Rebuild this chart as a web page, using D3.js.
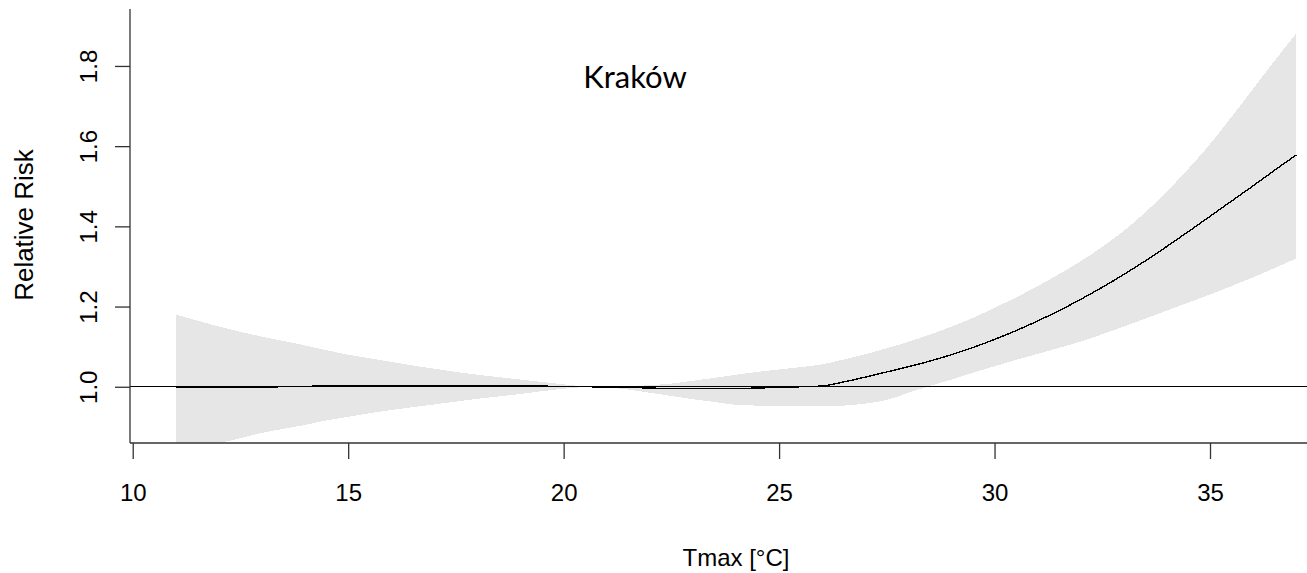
<!DOCTYPE html>
<html>
<head>
<meta charset="utf-8">
<script src="https://cdn.jsdelivr.net/npm/d3@7"></script>
<style>
  html, body { margin: 0; padding: 0; background: #fff; }
  svg { display: block; }
  .tick-label, .axis-title { font-family: "Liberation Sans", Arial, sans-serif; fill: #000; }
  .title { font-family: Lato, "Open Sans", sans-serif; fill: #000; }
</style>
</head>
<body>
<svg id="chart" width="1307" height="573"></svg>
<script>
// Exposure–response curve for maximum temperature, Kraków
const temps = [11, 11.5, 12, 12.5, 13, 13.5, 14, 14.5, 15, 15.5, 16, 16.5, 17, 17.5, 18, 18.5,
  19, 19.5, 20, 20.5, 21, 21.5, 22, 22.5, 23, 23.5, 24, 24.5, 25, 25.5, 26, 26.5, 27, 27.5,
  28, 28.5, 29, 29.5, 30, 30.5, 31, 31.5, 32, 32.5, 33, 33.5, 34, 34.5, 35, 35.5, 36, 36.5, 37];

const rr = [0.998, 0.998, 0.998, 0.9985, 0.9995, 1.000, 1.001, 1.002, 1.002, 1.002, 1.002, 1.002,
  1.002, 1.002, 1.002, 1.002, 1.002, 1.0015, 1.001, 1.000, 0.9995, 0.998, 0.997, 0.995, 0.995,
  0.995, 0.995, 0.997, 0.998, 1.000, 1.002, 1.012, 1.024, 1.037, 1.050, 1.064, 1.080, 1.098,
  1.118, 1.140, 1.164, 1.190, 1.218, 1.248, 1.280, 1.314, 1.350, 1.387, 1.425, 1.463, 1.501,
  1.540, 1.578];

const rrLow = [0.835, 0.847, 0.859, 0.872, 0.885, 0.895, 0.905, 0.916, 0.925, 0.934, 0.942, 0.949,
  0.956, 0.963, 0.970, 0.976, 0.982, 0.989, 0.995, 0.999, 0.998, 0.993, 0.985, 0.977, 0.969,
  0.962, 0.955, 0.953, 0.952, 0.952, 0.952, 0.953, 0.958, 0.967, 0.985, 1.002, 1.018, 1.035,
  1.051, 1.067, 1.082, 1.097, 1.113, 1.131, 1.150, 1.170, 1.190, 1.210, 1.230, 1.251, 1.273,
  1.296, 1.320];

const rrHigh = [1.180, 1.165, 1.150, 1.137, 1.125, 1.114, 1.103, 1.091, 1.080, 1.071, 1.062, 1.053,
  1.045, 1.037, 1.030, 1.024, 1.018, 1.012, 1.006, 1.001, 1.000, 1.001, 1.004, 1.008, 1.015,
  1.022, 1.030, 1.037, 1.043, 1.049, 1.056, 1.068, 1.081, 1.096, 1.112, 1.130, 1.150, 1.172,
  1.197, 1.223, 1.251, 1.281, 1.313, 1.349, 1.389, 1.435, 1.487, 1.544, 1.605, 1.673, 1.743,
  1.813, 1.881];

const xTicks = [10, 15, 20, 25, 30, 35];
const yTicks = [1.0, 1.2, 1.4, 1.6, 1.8];
const refLevel = 1.0;
const titleText = "Kraków";
const xTitle = "Tmax [°C]";
const yTitle = "Relative Risk";

const rows = temps.map((t, i) => ({ t, rr: rr[i], lo: rrLow[i], hi: rrHigh[i] }));

const svg = d3.select("#chart");
const plot = { left: 130, right: 1307, top: 9, bottom: 443 };

const x = d3.scaleLinear().domain([9.96, 38.04]).range([131, 1341]);
const y = d3.scaleLinear().domain([0.859, 1.942]).range([443.3, 9]);

svg.append("defs").append("clipPath").attr("id", "plot-clip")
  .append("rect")
  .attr("x", plot.left).attr("y", plot.top)
  .attr("width", plot.right - plot.left).attr("height", plot.bottom - plot.top);

const body = svg.append("g").attr("clip-path", "url(#plot-clip)");

// confidence band
body.append("path")
  .datum(rows)
  .attr("d", d3.area()
    .x(d => x(d.t))
    .y0(d => y(d.lo))
    .y1(d => y(d.hi))
    .curve(d3.curveMonotoneX))
  .attr("fill", "#e6e6e6")
  .attr("stroke", "none")
  .attr("shape-rendering", "crispEdges");

// reference line at RR = 1
body.append("line")
  .attr("x1", plot.left).attr("x2", plot.right)
  .attr("y1", y(refLevel)).attr("y2", y(refLevel))
  .attr("stroke", "#000").attr("stroke-width", 1.2)
  .attr("shape-rendering", "crispEdges");

// estimated relative risk
body.append("path")
  .datum(rows)
  .attr("d", d3.line()
    .x(d => x(d.t))
    .y(d => y(d.rr))
    .curve(d3.curveMonotoneX))
  .attr("fill", "none")
  .attr("stroke", "#000")
  .attr("stroke-width", 1.4)
  .attr("shape-rendering", "crispEdges");

// axes
const xAxis = svg.append("g")
  .attr("transform", `translate(0,${plot.bottom})`)
  .call(d3.axisBottom(x).tickValues(xTicks).tickSize(16).tickSizeOuter(0).tickFormat(d3.format("d")));
xAxis.select(".domain").remove();
xAxis.append("line")
  .attr("x1", plot.left).attr("x2", plot.right).attr("y1", 0).attr("y2", 0)
  .attr("stroke", "#333").attr("stroke-width", 1.3);
xAxis.selectAll(".tick line").attr("stroke", "#333").attr("stroke-width", 1.3);
xAxis.selectAll(".tick text")
  .attr("class", "tick-label")
  .attr("y", 0).attr("dy", null)
  .attr("transform", "translate(0,58)")
  .style("font-size", "24px")
  .attr("text-anchor", "middle");

const yAxis = svg.append("g")
  .attr("transform", `translate(${plot.left},0)`)
  .call(d3.axisLeft(y).tickValues(yTicks).tickSize(15).tickSizeOuter(0).tickFormat(d3.format(".1f")));
yAxis.select(".domain").remove();
yAxis.append("line")
  .attr("x1", 0).attr("x2", 0).attr("y1", plot.top).attr("y2", plot.bottom)
  .attr("stroke", "#333").attr("stroke-width", 1.3);
yAxis.selectAll(".tick line").attr("stroke", "#333").attr("stroke-width", 1.3);
yAxis.selectAll(".tick text")
  .attr("class", "tick-label")
  .attr("x", 0).attr("dy", null)
  .attr("transform", "translate(-33,0) rotate(-90)")
  .style("font-size", "24px")
  .attr("text-anchor", "middle");

// titles
svg.append("text")
  .attr("class", "axis-title")
  .attr("x", 736).attr("y", 566)
  .attr("text-anchor", "middle")
  .style("font-size", "24px")
  .text(xTitle);

svg.append("text")
  .attr("class", "axis-title")
  .attr("transform", "translate(33,225) rotate(-90)")
  .attr("text-anchor", "middle")
  .style("font-size", "26px")
  .text(yTitle);

svg.append("text")
  .attr("class", "title")
  .attr("x", 635).attr("y", 88)
  .attr("text-anchor", "middle")
  .style("font-size", "31px")
  .text(titleText);
</script>
</body>
</html>
